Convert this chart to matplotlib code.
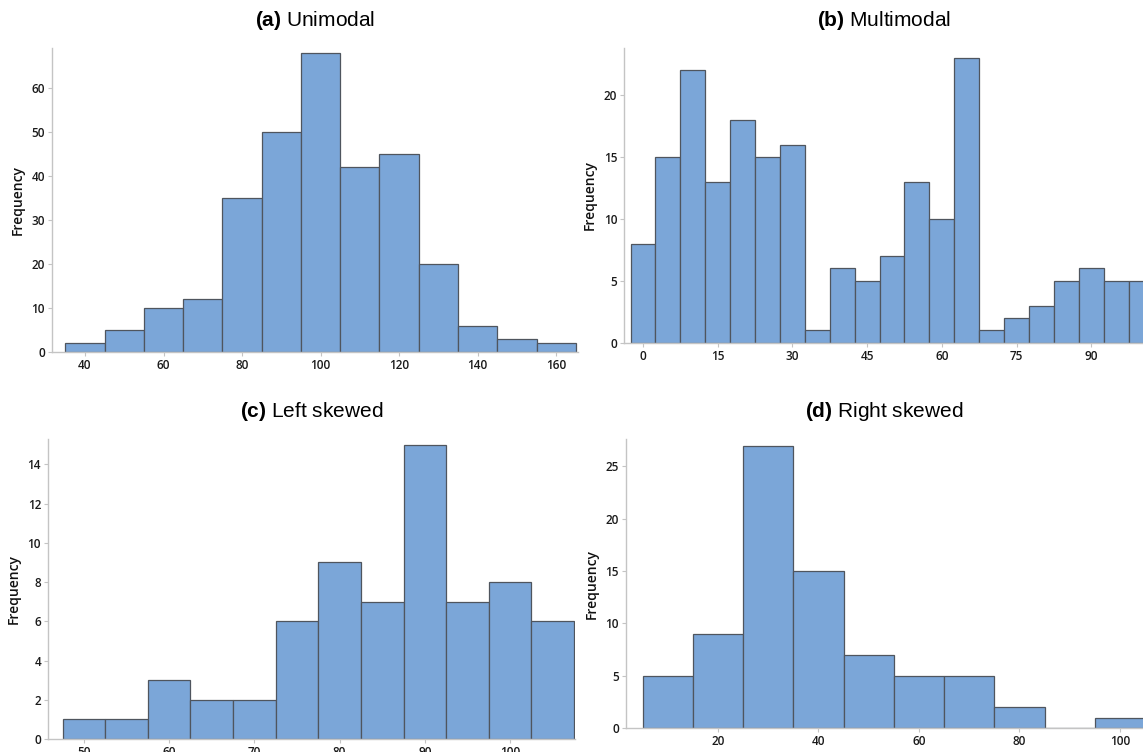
import numpy as np
import matplotlib
matplotlib.use('Agg')
import matplotlib.pyplot as plt

plt.rcParams['font.family'] = ['Open Sans', 'DejaVu Sans']
plt.rcParams['mathtext.fontset'] = 'custom'
plt.rcParams['mathtext.bf'] = 'Liberation Sans:bold'
plt.rcParams['mathtext.rm'] = 'Liberation Sans'

# Data --------------------------------------------------------------
uni_edges = [35, 45, 55, 65, 75, 85, 95, 105, 115, 125, 135, 145, 155, 165]
uni_counts = [2, 5, 10, 12, 35, 50, 68, 42, 45, 20, 6, 3, 2]

multi_edges = [-2.5 + 5 * i for i in range(22)]
multi_counts = [8, 15, 22, 13, 18, 15, 16, 1, 6, 5, 7, 13, 10, 23, 1, 2, 3, 5, 6, 5, 5]

left_edges = [47.5, 52.5, 57.5, 62.5, 67.5, 72.5, 77.5, 82.5, 87.5, 92.5, 97.5, 102.5, 107.5]
left_counts = [1, 1, 3, 2, 2, 6, 9, 7, 15, 7, 8, 6]

right_edges = [5, 15, 25, 35, 45, 55, 65, 75, 85, 95, 105]
right_counts = [5, 9, 27, 15, 7, 5, 5, 2, 0, 1]

fill = '#7ba6d8'
edge = '#4f555e'
spine = '#c4c4c4'

fig = plt.figure(figsize=(11.43, 7.52), dpi=100)

panels = [
    # rect, edges, counts, title, tag, xlim, ylim, xticks, yticks
    ([0.0455, 0.532, 0.460, 0.404], uni_edges, uni_counts, 'Unimodal', '(a)',
     (31.6, 165.5), (0, 69), np.arange(40, 161, 20), np.arange(0, 61, 10)),
    ([0.546, 0.5443, 0.454, 0.392], multi_edges, multi_counts, 'Multimodal', '(b)',
     (-3.8, 100.4), (0, 23.8), np.arange(0, 91, 15), np.arange(0, 21, 5)),
    ([0.042, 0.0173, 0.461, 0.399], left_edges, left_counts, 'Left skewed', '(c)',
     (45.8, 107.6), (0, 15.3), np.arange(50, 101, 10), np.arange(0, 15, 2)),
    ([0.5477, 0.0319, 0.4523, 0.384], right_edges, right_counts, 'Right skewed', '(d)',
     (1.7, 104.6), (0, 27.6), np.arange(20, 101, 20), np.arange(0, 26, 5)),
]

for rect, edges, counts, name, tag, xl, yl, xt, yt in panels:
    ax = fig.add_axes(rect)
    edges = np.array(edges, dtype=float)
    ax.bar(edges[:-1], counts, width=np.diff(edges), align='edge',
           color=fill, edgecolor=edge, linewidth=0.9)
    ax.set_xlim(xl)
    ax.set_ylim(yl)
    ax.set_xticks(xt)
    ax.set_yticks(yt)
    for s in ['top', 'right']:
        ax.spines[s].set_visible(False)
    for s in ['left', 'bottom']:
        ax.spines[s].set_color(spine)
        ax.spines[s].set_linewidth(1.0)
    ax.tick_params(axis='both', colors=spine, length=3, width=0.8, pad=2,
                   labelcolor='#1a1a1a', labelsize=8.5)
    for lab in ax.get_xticklabels() + ax.get_yticklabels():
        lab.set_fontweight('semibold')
    ax.set_ylabel('Frequency', fontsize=10, color='#111111', labelpad=5,
                  fontweight='semibold')
    ax.set_title(r'$\mathbf{' + tag + '}$ ' + name, fontsize=15,
                 family='Liberation Sans', pad=16)

plt.savefig('out.png', dpi=100)
